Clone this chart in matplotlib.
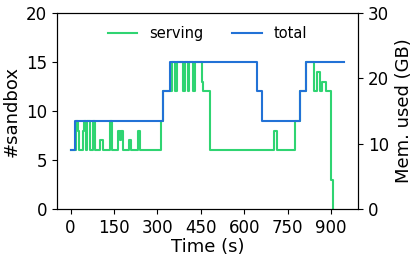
import matplotlib
matplotlib.use("Agg")
import matplotlib.pyplot as plt

# serving (#sandbox) as step changes: time (s) and value
serving_t = [0, 20, 26, 30, 44, 48, 52, 56, 66, 78, 84, 103, 112, 135, 143, 163, 170, 173, 181,
             201, 209, 232, 241, 313, 321, 350, 361, 367, 387, 395, 405, 410, 424, 430, 453, 459,
             481, 701, 713, 774, 791, 814, 842, 852, 862, 870, 882, 900, 906, 908]
serving_v = [6, 9, 8, 6, 8, 9, 6, 9, 6, 9, 6, 7, 6, 9, 6, 8, 7, 8, 6,
             7, 6, 8, 6, 9, 12, 15, 12, 15, 12, 15, 12, 15, 12, 15, 13, 12,
             6, 8, 6, 9, 12, 15, 12, 14, 12, 13, 12, 3, 0, 0]

total_t = [0, 14, 321, 344, 644, 662, 791, 814, 946]
total_v = [6, 9, 12, 15, 12, 9, 12, 15, 15]

x_ticks = [0, 150, 300, 450, 600, 750, 900]
left_ticks = [0, 5, 10, 15, 20]
right_ticks = [0, 10, 20, 30]

green = "#2fd472"
blue = "#2272d6"

fig = plt.figure(figsize=(4.15, 2.61), dpi=100)
ax = fig.add_subplot(111)
fig.subplots_adjust(left=0.137, right=0.863, top=0.950, bottom=0.199)

ax.plot(serving_t, serving_v, drawstyle="steps-post", color=green, lw=1.5, label="serving")
ax.plot(total_t, total_v, drawstyle="steps-post", color=blue, lw=1.5, label="total")

ax.set_ylim(0, 20)
ax.set_yticks(left_ticks)
ax.set_xticks(x_ticks)
ax.tick_params(labelsize=12)
ax.set_xlabel("Time (s)", fontsize=13, labelpad=1)
ax.set_ylabel("#sandbox", fontsize=13)

ax2 = ax.twinx()
ax2.set_ylim(0, 30)
ax2.set_yticks(right_ticks)
ax2.tick_params(labelsize=12)
ax2.set_ylabel("Mem. used (GB)", fontsize=13)

ax.legend(loc="upper center", ncol=2, frameon=False, fontsize=10.5, columnspacing=2.0,
          bbox_to_anchor=(0.5, 1.0))

fig.savefig("out.png", dpi=100)
